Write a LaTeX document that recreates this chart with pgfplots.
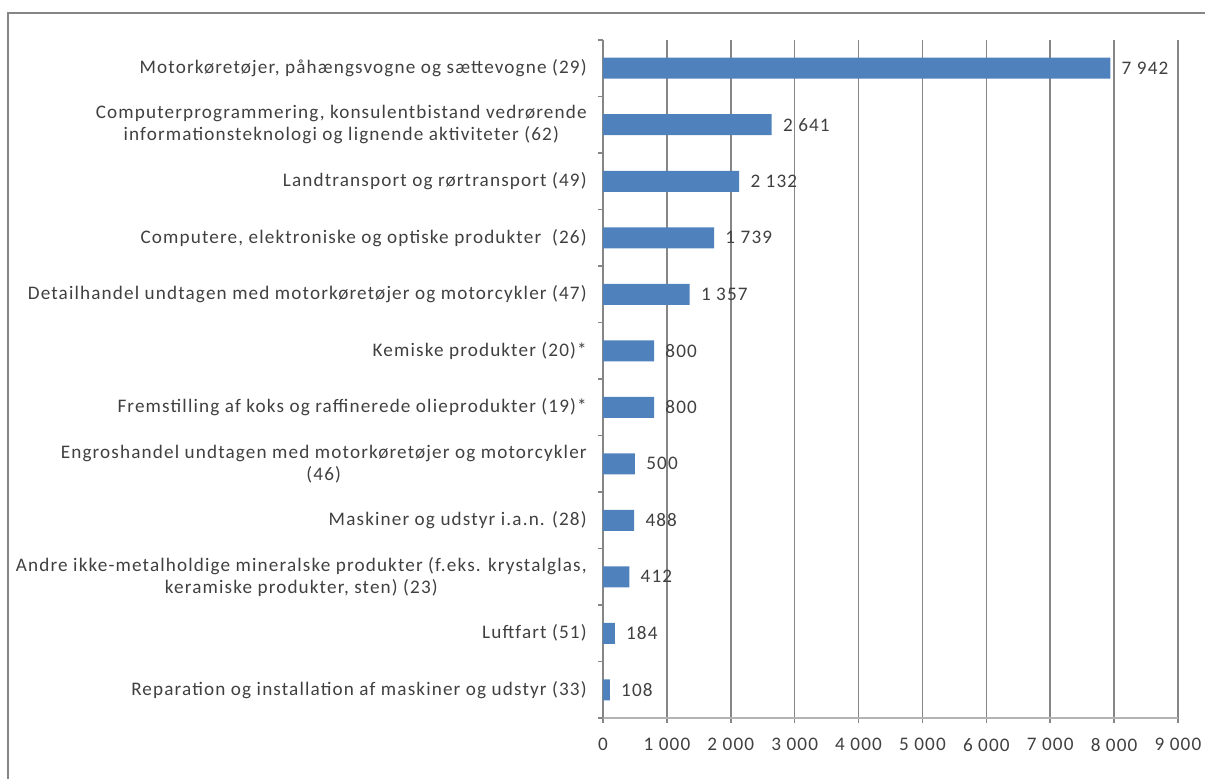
\documentclass[border=0pt]{standalone}
\usepackage{fontspec}
\setmainfont{Carlito}[LetterSpace=6]
\usepackage{pgfplots}
\pgfplotsset{compat=1.18}
\definecolor{barblue}{HTML}{4F81BD}
\definecolor{txt}{HTML}{404040}
\definecolor{gridc}{HTML}{868686}
\definecolor{axc}{HTML}{B3B3B3}
\begin{document}
\begin{tikzpicture}
\useasboundingbox (0,0) rectangle (723pt,466.8pt);
\draw[gridc, line width=0.9pt] (4.8pt,-2pt) -- (4.8pt,459pt) -- (730pt,459pt);
\begin{axis}[
  at={(361.8pt,36pt)}, anchor=south west,
  scale only axis, width=345pt, height=406.8pt,
  xbar, bar width=12.6pt,
  xmin=0, xmax=9000, ymin=-0.5, ymax=11.5,
  axis x line*=bottom, axis y line*=left,
  x axis line style={-, axc, line width=1.5pt},
  y axis line style={-, gridc, line width=0.9pt},
  xmajorgrids, major grid style={gridc, line width=0.9pt},
  xtick={0,1000,...,9000},
  xticklabels={0,1~000,2~000,3~000,4~000,5~000,6~000,7~000,8~000,9~000},
  ytick={0,...,11},
  yticklabels={
    {Reparation og installation af maskiner og udstyr (33)},
    {Luftfart (51)},
    {Andre ikke-metalholdige mineralske produkter (f.eks. krystalglas,\\keramiske produkter, sten) (23)},
    {Maskiner og udstyr i.a.n. (28)},
    {Engroshandel undtagen med motorkøretøjer og motorcykler\\(46)},
    {Fremstilling af koks og raffinerede olieprodukter (19)*},
    {Kemiske produkter (20)*},
    {Detailhandel undtagen med motorkøretøjer og motorcykler (47)},
    {Computere, elektroniske og optiske produkter~~(26)},
    {Landtransport og rørtransport (49)},
    {Computerprogrammering, konsulentbistand vedrørende\\informationsteknologi og lignende aktiviteter (62)},
    {Motorkøretøjer, påhængsvogne og sættevogne (29)}
  },
  minor ytick={-0.5,0.5,...,11.5},
  major y tick style={draw=none},
  tick align=outside,
  major tick length=3pt, minor tick length=3pt,
  tick style={gridc, line width=0.9pt},
  yticklabel style={align=center, text=txt, inner sep=0pt, xshift=-6.6pt, font=\fontsize{11.5}{13.2}\selectfont},
  xticklabel style={text=txt, inner sep=0pt, yshift=-9pt, font=\fontsize{11.5}{13.2}\selectfont},
  nodes near coords, point meta=explicit symbolic,
  every node near coord/.append style={anchor=west, inner sep=0pt, xshift=6.6pt, text=txt, font=\fontsize{11.5}{13.2}\selectfont},
  clip=false,
]
\addplot[fill=barblue, draw=none] coordinates {
  (108,0) [108]
  (184,1) [184]
  (412,2) [412]
  (488,3) [488]
  (500,4) [500]
  (800,5) [800]
  (800,6) [800]
  (1357,7) [1~357]
  (1739,8) [1~739]
  (2132,9) [2~132]
  (2641,10) [2~641]
  (7942,11) [7~942]
};
\end{axis}
\end{tikzpicture}
\end{document}
